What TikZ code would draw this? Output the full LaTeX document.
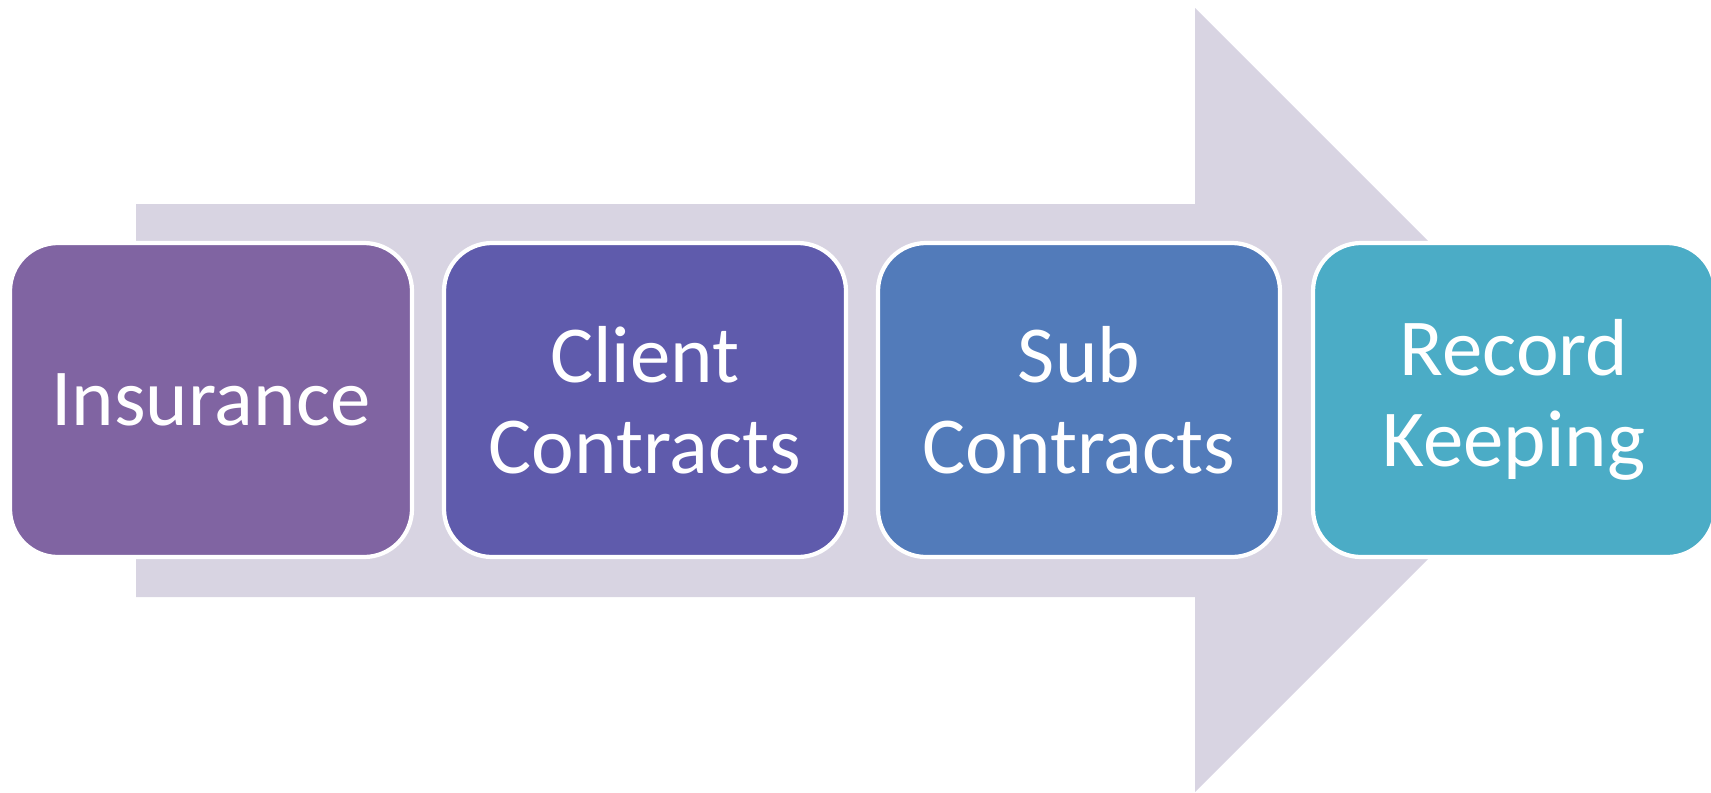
\documentclass[tikz,border=0pt]{standalone}
\usepackage{fontspec}
\setmainfont{Carlito}
\definecolor{arrowgrey}{HTML}{D8D4E2}
\definecolor{boxA}{HTML}{8064A2}
\definecolor{boxB}{HTML}{5F5BAC}
\definecolor{boxC}{HTML}{527BBA}
\definecolor{boxD}{HTML}{4BACC6}
\tikzset{
  stagebox/.style={draw=white, line width=1.2pt, rounded corners=4.8mm, minimum width=40.2mm, minimum height=31.4mm, align=center, text=white, font=\fontsize{23}{26}\selectfont}
}
\begin{document}
\begin{tikzpicture}[x=0.1mm, y=0.1mm]
        \useasboundingbox (0,0) rectangle (1711,792);
        \fill[arrowgrey] (136,588) -- (1195,588) -- (1195,784) -- (1587,392) -- (1195,0) -- (1195,195) -- (136,195) -- cycle;
        \node[stagebox, fill=boxA] (insurance) at (211,392) {Insurance};
        \node[stagebox, fill=boxB] (client) at (645,392) {Client\\Contracts};
        \node[stagebox, fill=boxC] (sub) at (1079,392) {Sub\\Contracts};
        \node[stagebox, fill=boxD] (record) at (1514,392) {Record\\Keeping};
        \end{tikzpicture}
\end{document}
